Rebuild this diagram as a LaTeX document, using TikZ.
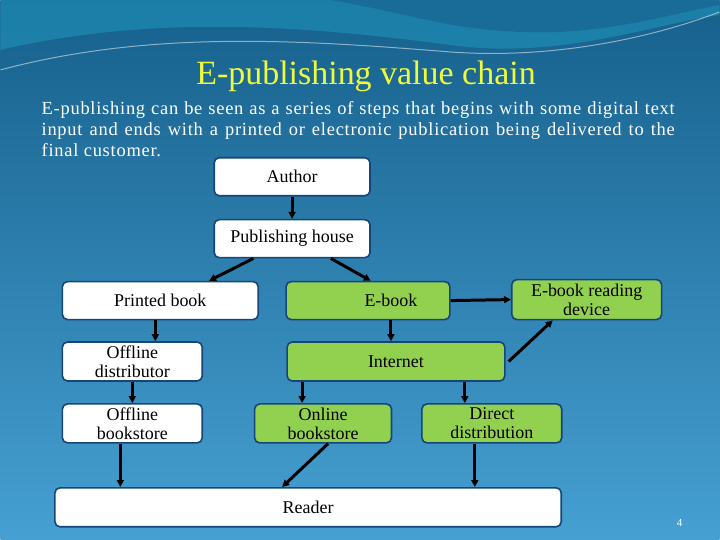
\documentclass[tikz,border=0pt]{standalone}
\usepackage{fontspec}
\setmainfont{Liberation Serif}
\usetikzlibrary{arrows.meta}
\definecolor{bgtop}{RGB}{22,96,140}
\definecolor{bgbot}{RGB}{70,160,210}
\definecolor{wave}{RGB}{30,140,180}
\definecolor{gbox}{RGB}{146,208,80}
\definecolor{bord}{RGB}{20,70,120}
\definecolor{ttl}{RGB}{240,250,60}
\begin{document}
\begin{tikzpicture}[x=1pt,y=-1pt,
  box/.style={draw=bord,line width=1.6pt,rounded corners=5pt,fill=white,inner sep=0pt,align=center,font=\fontsize{18}{19}\selectfont},
  gb/.style={box,fill=gbox},
  arr/.style={-{Triangle[length=7pt,width=7pt]},line width=3pt,black}]
\shade[top color=bgtop,bottom color=bgbot] (0,0) rectangle (720,540);
\fill[wave,opacity=.7] (0,50) .. controls (150,15) and (300,25) .. (450,45) .. controls (560,60) and (650,25) .. (720,15) -- (720,0) -- (0,0) -- cycle;
\fill[bgtop,opacity=.6] (330,0) .. controls (420,15) and (460,35) .. (560,32) .. controls (630,28) and (680,12) .. (720,5) -- (720,0) -- cycle;
\draw[white,opacity=.5,line width=1pt] (0,70) .. controls (150,30) and (300,40) .. (450,52) .. controls (560,60) and (660,35) .. (720,12);
\useasboundingbox (0,0) rectangle (720,540);
\node[text=ttl,font=\fontsize{34}{36}\selectfont] (title) at (366,76) {E-publishing value chain};
\node[text=white,anchor=north west,text width=634pt,align=justify,font=\fontsize{18.5}{21}\selectfont\addfontfeature{LetterSpace=4},inner sep=0pt] (intro) at (41,101) {E-publishing can be seen as a series of steps that begins with some digital text input and ends with a printed or electronic publication being delivered to the final customer.};
\node[box,minimum width=156pt,minimum height=38pt] (author) at (292,177) {Author};
\node[box,minimum width=156pt,minimum height=38pt] (ph) at (292,239) {Publishing house};
\node[box,minimum width=196pt,minimum height=38pt] (pb) at (160,301) {Printed book};
\node[gb,minimum width=164pt,minimum height=38pt] (eb) at (368,301) {\hspace*{46pt}E-book};
\node[gb,minimum width=150pt,minimum height=40pt] (dev) at (587,300) {E-book reading\\device};
\node[box,minimum width=140pt,minimum height=39pt] (od) at (132,362) {Offline\\distributor};
\node[gb,minimum width=218pt,minimum height=39pt] (inet) at (396,362) {Internet};
\node[box,minimum width=140pt,minimum height=39pt] (obs) at (132,424) {Offline\\bookstore};
\node[gb,minimum width=137pt,minimum height=39pt] (onb) at (323,424) {Online\\bookstore};
\node[gb,minimum width=140pt,minimum height=39pt] (dd) at (492,424) {Direct\\distribution};
\node[box,minimum width=507pt,minimum height=39pt] (rd) at (308,508) {Reader};
\node[text=white,font=\fontsize{11}{12}\selectfont] (pg) at (680,524) {4};
\draw[arr] (author.south) -- (ph.north);
\draw[arr] (ph.south west)+(40,0) -- ([xshift=-50pt]pb.north east);
\draw[arr] (ph.south east)+(-40,0) -- ([xshift=-80pt]eb.north east);
\draw[arr] (eb.east) -- (dev.west);
\draw[arr] ([xshift=3pt]inet.east) -- ([xshift=-34pt]dev.south);
\draw[arr] ([xshift=-5pt]pb.south) -- ([xshift=23pt]od.north);
\draw[arr] (od.south) -- (obs.north);
\draw[arr] ([xshift=23pt]eb.south) -- ([xshift=-5pt]inet.north);
\draw[arr] ([xshift=-94pt]inet.south) -- ([xshift=-21pt]onb.north);
\draw[arr] ([xshift=69pt]inet.south) -- ([xshift=-27pt]dd.north);
\draw[arr] ([xshift=-12pt]obs.south) -- ([xshift=-188pt]rd.north);
\draw[arr] ([xshift=5pt]onb.south) -- ([xshift=-26pt]rd.north);
\draw[arr] ([xshift=-17pt]dd.south) -- ([xshift=167pt]rd.north);
\end{tikzpicture}
\end{document}
